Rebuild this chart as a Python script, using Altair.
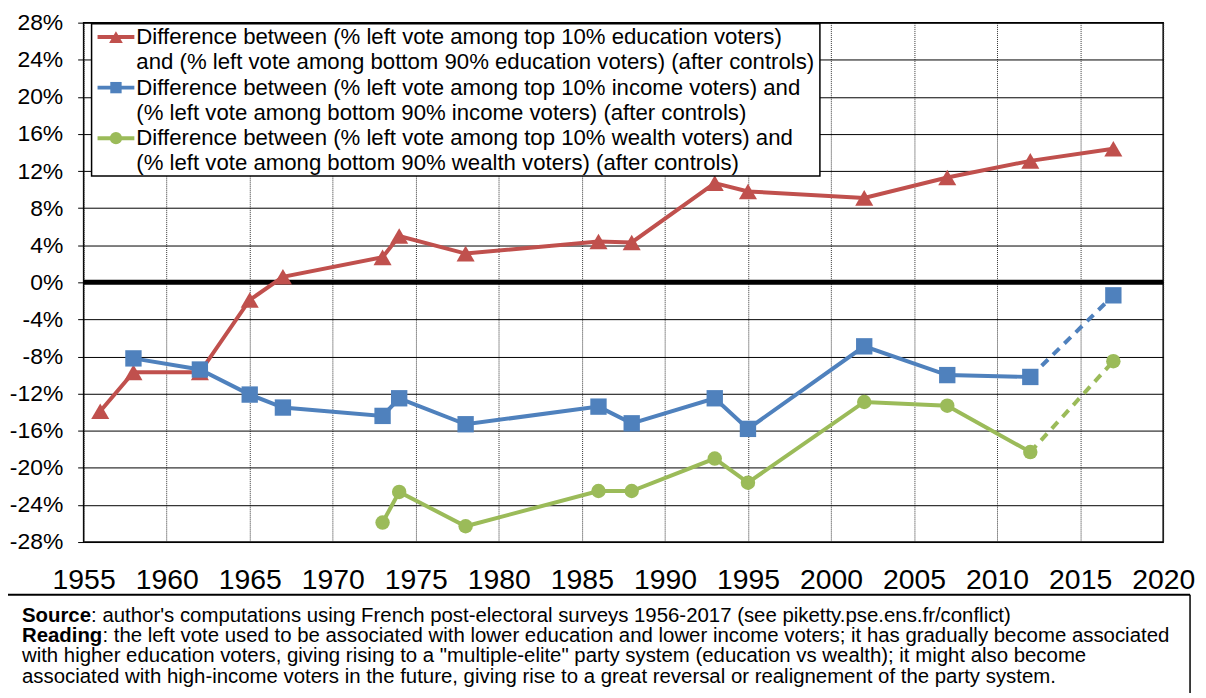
import altair as alt
import pandas as pd

# ---------------- data ----------------
years_edu = [1956, 1958, 1962, 1965, 1967, 1973, 1974, 1978, 1986, 1988, 1993, 1995, 2002, 2007, 2012, 2017]
edu = [-13.9, -9.7, -9.7, -1.9, 0.6, 2.7, 5.0, 3.1, 4.4, 4.3, 10.7, 9.8, 9.1, 11.3, 13.1, 14.4]

years_inc = [1958, 1962, 1965, 1967, 1973, 1974, 1978, 1986, 1988, 1993, 1995, 2002, 2007, 2012, 2017]
inc = [-8.2, -9.4, -12.1, -13.5, -14.4, -12.5, -15.3, -13.4, -15.2, -12.5, -15.8, -6.9, -10.0, -10.2, -1.4]

years_wea = [1973, 1974, 1978, 1986, 1988, 1993, 1995, 2002, 2007, 2012, 2017]
wea = [-25.9, -22.6, -26.3, -22.5, -22.5, -19.0, -21.6, -12.9, -13.3, -18.3, -8.5]

series_keys = ["edu", "inc", "wea"]
series_colors = ["#C0504D", "#4F81BD", "#9BBB59"]
series_shapes = ["triangle-up", "square", "circle"]
series_sizes = [330, 210, 250]

legend_lines = [
    ["Difference between (% left vote among top 10% education voters)",
     "and (% left vote among bottom 90% education voters) (after controls)"],
    ["Difference between (% left vote among top 10% income voters) and",
     "(% left vote among bottom 90% income voters) (after controls)"],
    ["Difference between (% left vote among top 10% wealth voters) and",
     "(% left vote among bottom 90% wealth voters) (after controls)"],
]

note_lines = [
    ("Source", ": author's computations using French post-electoral surveys 1956-2017 (see piketty.pse.ens.fr/conflict)"),
    ("Reading", ": the left vote used to be associated with lower education and lower income voters; it has gradually become associated"),
    ("", "with higher education voters, giving rising to a \"multiple-elite\" party system (education vs wealth); it might also become"),
    ("", "associated with high-income voters in the future, giving rise to a great reversal or realignement of the party system."),
]

x_ticks = list(range(1955, 2021, 5))
y_ticks = list(range(-28, 29, 4))

# ---------------- tables ----------------
rows = []
for key, ys, vs in [("edu", years_edu, edu), ("inc", years_inc, inc), ("wea", years_wea, wea)]:
    for yr, v in zip(ys, vs):
        rows.append({"year": yr, "value": v, "series": key})
df = pd.DataFrame(rows)

# solid part: everything except the 2012->2017 link for income and wealth
df_solid = df[~((df.series != "edu") & (df.year == 2017))]
df_dash = df[(df.series != "edu") & (df.year >= 2012)]

FONT = "Liberation Sans"
W, H = 1085, 522

color = alt.Color("series:N", scale=alt.Scale(domain=series_keys, range=series_colors), legend=None)
shape = alt.Shape("series:N", scale=alt.Scale(domain=series_keys, range=series_shapes), legend=None)
size = alt.Size("series:N", scale=alt.Scale(domain=series_keys, range=series_sizes), legend=None)

xscale = alt.Scale(domain=[1955, 2020], nice=False, zero=False)
yscale = alt.Scale(domain=[-28, 28], nice=False, zero=False)
xaxis = alt.Axis(values=x_ticks, format="d", title=None, grid=True,
                 gridDash=[1, 1], gridColor="#333", gridWidth=1,
                 ticks=False, tickSize=0, domain=False,
                 labelFontSize=28.5, labelFont=FONT, labelColor="black",
                 labelPadding=24, labelFlush=False, labelOverlap=False)
yaxis = alt.Axis(values=y_ticks, labelExpr="datum.value + '%'", title=None,
                 grid=True, gridColor="black", gridWidth=1,
                 ticks=True, tickSize=6, tickColor="black", domain=False,
                 labelFontSize=23, labelFont=FONT, labelColor="black",
                 labelPadding=15, labelFlush=False, labelOverlap=False)

# zero line (carries the axes definition)
zero_df = pd.DataFrame({"year": [1955, 2020], "value": [0, 0]})
zero_line = alt.Chart(zero_df).mark_line(color="black", strokeWidth=5).encode(
    x=alt.X("year:Q", scale=xscale, axis=xaxis),
    y=alt.Y("value:Q", scale=yscale, axis=yaxis))

solid = alt.Chart(df_solid).mark_line(strokeWidth=4).encode(
    x=alt.X("year:Q", scale=xscale, axis=xaxis),
    y=alt.Y("value:Q", scale=yscale, axis=yaxis),
    color=color, detail="series:N")
dash = alt.Chart(df_dash).mark_line(strokeWidth=4, strokeDash=[9, 7]).encode(
    x=alt.X("year:Q", scale=xscale, axis=xaxis),
    y=alt.Y("value:Q", scale=yscale, axis=yaxis),
    color=color, detail="series:N")
points = alt.Chart(df).mark_point(filled=True, opacity=1).encode(
    x=alt.X("year:Q", scale=xscale, axis=xaxis),
    y=alt.Y("value:Q", scale=yscale, axis=yaxis),
    color=color, shape=shape, size=size)

one = pd.DataFrame({"a": [0]})
layers = [zero_line, solid, dash, points]

# ---------------- legend box (inside plot, top-left) ----------------
layers.append(alt.Chart(one).mark_rect(fill="white", stroke="black", strokeWidth=1.5).encode(
    x=alt.value(8), x2=alt.value(740), y=alt.value(1), y2=alt.value(154)))
row_y = [14.5, 65.3, 116.1]
leg_sizes = [190, 130, 150]
LH = 25.4
for i in range(3):
    layers.append(alt.Chart(one).mark_rule(color=series_colors[i], strokeWidth=4).encode(
        x=alt.value(14), x2=alt.value(51), y=alt.value(row_y[i])))
    layers.append(alt.Chart(one).mark_point(filled=True, opacity=1, size=leg_sizes[i],
                                            shape=series_shapes[i], color=series_colors[i]).encode(
        x=alt.value(32.5), y=alt.value(row_y[i])))
    for j, line in enumerate(legend_lines[i]):
        layers.append(alt.Chart(one).mark_text(text=line, align="left", baseline="middle",
                                               font=FONT, fontSize=22.3, color="black").encode(
            x=alt.value(53), y=alt.value(row_y[i] + j * LH)))

# ---------------- note box below the chart ----------------
layers.append(alt.Chart(one).mark_rule(color="black", strokeWidth=2).encode(
    x=alt.value(-76), x2=alt.value(1112), y=alt.value(575)))
layers.append(alt.Chart(one).mark_rule(color="black", strokeWidth=1.5).encode(
    x=alt.value(1112), y=alt.value(575), y2=alt.value(690)))
note_base = [602, 622.5, 643, 663.5]   # alphabetic baselines (view coords)
NX = -62
FS = 20.5
for (bold, rest), yy in zip(note_lines, note_base):
    if bold:
        layers.append(alt.Chart(one).mark_text(text=bold, align="left", baseline="alphabetic",
                                               font=FONT, fontSize=FS, fontWeight="bold",
                                               color="black").encode(
            x=alt.value(NX), y=alt.value(yy)))
        bw = {"Source": 3.39, "Reading": 3.945}[bold] * FS
        layers.append(alt.Chart(one).mark_text(text=rest, align="left", baseline="alphabetic",
                                               font=FONT, fontSize=FS, color="black").encode(
            x=alt.value(NX + bw), y=alt.value(yy)))
    else:
        layers.append(alt.Chart(one).mark_text(text=rest, align="left", baseline="alphabetic",
                                               font=FONT, fontSize=FS, color="black").encode(
            x=alt.value(NX), y=alt.value(yy)))

chart = alt.layer(*layers).properties(
    width=W, height=H,
    autosize=alt.AutoSizeParams(type="none"),
    padding={"left": 76, "top": 13, "right": 35, "bottom": 150},
    background="white",
).configure_view(stroke="black", strokeWidth=1.5)

chart.save("out.html", embed_options={"renderer": "svg", "actions": False})
